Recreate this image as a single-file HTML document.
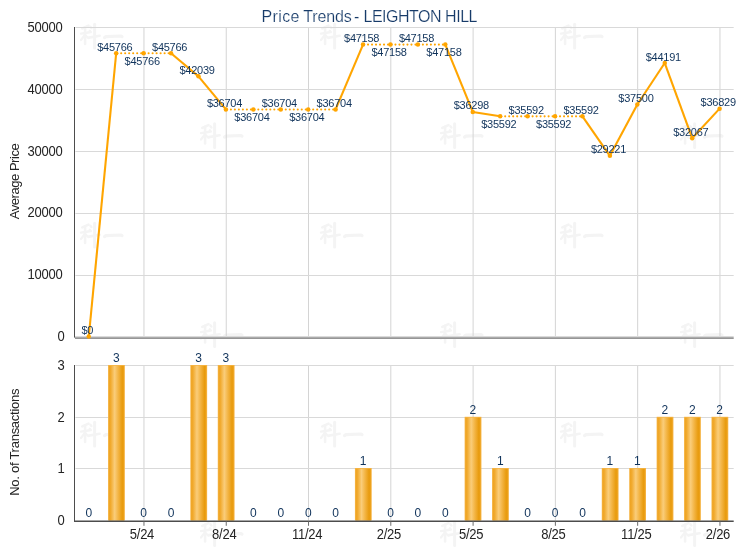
<!DOCTYPE html><html><head><meta charset="utf-8"><style>
html,body{margin:0;padding:0;background:#fff}
svg{display:block;will-change:transform}
text{font-family:"Liberation Sans",sans-serif}
.ax{font-size:13px;fill:#242424;letter-spacing:-0.25px}
.dl{font-size:11px;fill:#10335b;letter-spacing:-0.25px}
.bl{font-size:12px;fill:#10335b}
</style></head><body>
<svg width="740" height="550" viewBox="0 0 740 550">
<defs><linearGradient id="bg" x1="0" y1="0" x2="1" y2="0"><stop offset="0" stop-color="#eea321"/><stop offset="0.12" stop-color="#f1aa2e"/><stop offset="0.38" stop-color="#facd7a"/><stop offset="0.62" stop-color="#f3b443"/><stop offset="0.88" stop-color="#e89b0e"/><stop offset="1" stop-color="#eda21c"/></linearGradient>
<linearGradient id="xg" x1="0" y1="0" x2="0" y2="1"><stop offset="0" stop-color="#cfcfcf"/><stop offset="1" stop-color="#858585"/></linearGradient>
</defs>
<rect width="740" height="550" fill="#fff"/>
<g transform="translate(80,23.0)" fill="none" stroke="#f4f4f4" stroke-linecap="round" stroke-linejoin="round"><path d="M8.5 2.6 L2.3 5.4" stroke-width="2.6"/><path d="M1 10.6 L9.6 9.2" stroke-width="2.4"/><path d="M5.1 4.2 L5.1 21" stroke-width="2.6"/><path d="M4.8 12 L1 17" stroke-width="2.2"/><path d="M5.6 12.6 L8.4 15.2" stroke-width="2.2"/><path d="M10.4 3.8 L11.4 5" stroke-width="2.4"/><path d="M9.8 7.8 L10.8 9" stroke-width="2.4"/><path d="M8.8 14.6 L19.6 12.8" stroke-width="2.6"/><path d="M14.6 1.2 L14.6 25" stroke-width="3"/><path d="M24.5 14.6 L26 13.6 L41 13 L42 13.6" stroke-width="3.2"/></g>
<g transform="translate(320,23.0)" fill="none" stroke="#f4f4f4" stroke-linecap="round" stroke-linejoin="round"><path d="M8.5 2.6 L2.3 5.4" stroke-width="2.6"/><path d="M1 10.6 L9.6 9.2" stroke-width="2.4"/><path d="M5.1 4.2 L5.1 21" stroke-width="2.6"/><path d="M4.8 12 L1 17" stroke-width="2.2"/><path d="M5.6 12.6 L8.4 15.2" stroke-width="2.2"/><path d="M10.4 3.8 L11.4 5" stroke-width="2.4"/><path d="M9.8 7.8 L10.8 9" stroke-width="2.4"/><path d="M8.8 14.6 L19.6 12.8" stroke-width="2.6"/><path d="M14.6 1.2 L14.6 25" stroke-width="3"/><path d="M24.5 14.6 L26 13.6 L41 13 L42 13.6" stroke-width="3.2"/></g>
<g transform="translate(560,23.0)" fill="none" stroke="#f4f4f4" stroke-linecap="round" stroke-linejoin="round"><path d="M8.5 2.6 L2.3 5.4" stroke-width="2.6"/><path d="M1 10.6 L9.6 9.2" stroke-width="2.4"/><path d="M5.1 4.2 L5.1 21" stroke-width="2.6"/><path d="M4.8 12 L1 17" stroke-width="2.2"/><path d="M5.6 12.6 L8.4 15.2" stroke-width="2.2"/><path d="M10.4 3.8 L11.4 5" stroke-width="2.4"/><path d="M9.8 7.8 L10.8 9" stroke-width="2.4"/><path d="M8.8 14.6 L19.6 12.8" stroke-width="2.6"/><path d="M14.6 1.2 L14.6 25" stroke-width="3"/><path d="M24.5 14.6 L26 13.6 L41 13 L42 13.6" stroke-width="3.2"/></g>
<g transform="translate(200,122.5)" fill="none" stroke="#f4f4f4" stroke-linecap="round" stroke-linejoin="round"><path d="M8.5 2.6 L2.3 5.4" stroke-width="2.6"/><path d="M1 10.6 L9.6 9.2" stroke-width="2.4"/><path d="M5.1 4.2 L5.1 21" stroke-width="2.6"/><path d="M4.8 12 L1 17" stroke-width="2.2"/><path d="M5.6 12.6 L8.4 15.2" stroke-width="2.2"/><path d="M10.4 3.8 L11.4 5" stroke-width="2.4"/><path d="M9.8 7.8 L10.8 9" stroke-width="2.4"/><path d="M8.8 14.6 L19.6 12.8" stroke-width="2.6"/><path d="M14.6 1.2 L14.6 25" stroke-width="3"/><path d="M24.5 14.6 L26 13.6 L41 13 L42 13.6" stroke-width="3.2"/></g>
<g transform="translate(440,122.5)" fill="none" stroke="#f4f4f4" stroke-linecap="round" stroke-linejoin="round"><path d="M8.5 2.6 L2.3 5.4" stroke-width="2.6"/><path d="M1 10.6 L9.6 9.2" stroke-width="2.4"/><path d="M5.1 4.2 L5.1 21" stroke-width="2.6"/><path d="M4.8 12 L1 17" stroke-width="2.2"/><path d="M5.6 12.6 L8.4 15.2" stroke-width="2.2"/><path d="M10.4 3.8 L11.4 5" stroke-width="2.4"/><path d="M9.8 7.8 L10.8 9" stroke-width="2.4"/><path d="M8.8 14.6 L19.6 12.8" stroke-width="2.6"/><path d="M14.6 1.2 L14.6 25" stroke-width="3"/><path d="M24.5 14.6 L26 13.6 L41 13 L42 13.6" stroke-width="3.2"/></g>
<g transform="translate(680,122.5)" fill="none" stroke="#f4f4f4" stroke-linecap="round" stroke-linejoin="round"><path d="M8.5 2.6 L2.3 5.4" stroke-width="2.6"/><path d="M1 10.6 L9.6 9.2" stroke-width="2.4"/><path d="M5.1 4.2 L5.1 21" stroke-width="2.6"/><path d="M4.8 12 L1 17" stroke-width="2.2"/><path d="M5.6 12.6 L8.4 15.2" stroke-width="2.2"/><path d="M10.4 3.8 L11.4 5" stroke-width="2.4"/><path d="M9.8 7.8 L10.8 9" stroke-width="2.4"/><path d="M8.8 14.6 L19.6 12.8" stroke-width="2.6"/><path d="M14.6 1.2 L14.6 25" stroke-width="3"/><path d="M24.5 14.6 L26 13.6 L41 13 L42 13.6" stroke-width="3.2"/></g>
<g transform="translate(80,222.0)" fill="none" stroke="#f4f4f4" stroke-linecap="round" stroke-linejoin="round"><path d="M8.5 2.6 L2.3 5.4" stroke-width="2.6"/><path d="M1 10.6 L9.6 9.2" stroke-width="2.4"/><path d="M5.1 4.2 L5.1 21" stroke-width="2.6"/><path d="M4.8 12 L1 17" stroke-width="2.2"/><path d="M5.6 12.6 L8.4 15.2" stroke-width="2.2"/><path d="M10.4 3.8 L11.4 5" stroke-width="2.4"/><path d="M9.8 7.8 L10.8 9" stroke-width="2.4"/><path d="M8.8 14.6 L19.6 12.8" stroke-width="2.6"/><path d="M14.6 1.2 L14.6 25" stroke-width="3"/><path d="M24.5 14.6 L26 13.6 L41 13 L42 13.6" stroke-width="3.2"/></g>
<g transform="translate(320,222.0)" fill="none" stroke="#f4f4f4" stroke-linecap="round" stroke-linejoin="round"><path d="M8.5 2.6 L2.3 5.4" stroke-width="2.6"/><path d="M1 10.6 L9.6 9.2" stroke-width="2.4"/><path d="M5.1 4.2 L5.1 21" stroke-width="2.6"/><path d="M4.8 12 L1 17" stroke-width="2.2"/><path d="M5.6 12.6 L8.4 15.2" stroke-width="2.2"/><path d="M10.4 3.8 L11.4 5" stroke-width="2.4"/><path d="M9.8 7.8 L10.8 9" stroke-width="2.4"/><path d="M8.8 14.6 L19.6 12.8" stroke-width="2.6"/><path d="M14.6 1.2 L14.6 25" stroke-width="3"/><path d="M24.5 14.6 L26 13.6 L41 13 L42 13.6" stroke-width="3.2"/></g>
<g transform="translate(560,222.0)" fill="none" stroke="#f4f4f4" stroke-linecap="round" stroke-linejoin="round"><path d="M8.5 2.6 L2.3 5.4" stroke-width="2.6"/><path d="M1 10.6 L9.6 9.2" stroke-width="2.4"/><path d="M5.1 4.2 L5.1 21" stroke-width="2.6"/><path d="M4.8 12 L1 17" stroke-width="2.2"/><path d="M5.6 12.6 L8.4 15.2" stroke-width="2.2"/><path d="M10.4 3.8 L11.4 5" stroke-width="2.4"/><path d="M9.8 7.8 L10.8 9" stroke-width="2.4"/><path d="M8.8 14.6 L19.6 12.8" stroke-width="2.6"/><path d="M14.6 1.2 L14.6 25" stroke-width="3"/><path d="M24.5 14.6 L26 13.6 L41 13 L42 13.6" stroke-width="3.2"/></g>
<g transform="translate(200,321.5)" fill="none" stroke="#f4f4f4" stroke-linecap="round" stroke-linejoin="round"><path d="M8.5 2.6 L2.3 5.4" stroke-width="2.6"/><path d="M1 10.6 L9.6 9.2" stroke-width="2.4"/><path d="M5.1 4.2 L5.1 21" stroke-width="2.6"/><path d="M4.8 12 L1 17" stroke-width="2.2"/><path d="M5.6 12.6 L8.4 15.2" stroke-width="2.2"/><path d="M10.4 3.8 L11.4 5" stroke-width="2.4"/><path d="M9.8 7.8 L10.8 9" stroke-width="2.4"/><path d="M8.8 14.6 L19.6 12.8" stroke-width="2.6"/><path d="M14.6 1.2 L14.6 25" stroke-width="3"/><path d="M24.5 14.6 L26 13.6 L41 13 L42 13.6" stroke-width="3.2"/></g>
<g transform="translate(440,321.5)" fill="none" stroke="#f4f4f4" stroke-linecap="round" stroke-linejoin="round"><path d="M8.5 2.6 L2.3 5.4" stroke-width="2.6"/><path d="M1 10.6 L9.6 9.2" stroke-width="2.4"/><path d="M5.1 4.2 L5.1 21" stroke-width="2.6"/><path d="M4.8 12 L1 17" stroke-width="2.2"/><path d="M5.6 12.6 L8.4 15.2" stroke-width="2.2"/><path d="M10.4 3.8 L11.4 5" stroke-width="2.4"/><path d="M9.8 7.8 L10.8 9" stroke-width="2.4"/><path d="M8.8 14.6 L19.6 12.8" stroke-width="2.6"/><path d="M14.6 1.2 L14.6 25" stroke-width="3"/><path d="M24.5 14.6 L26 13.6 L41 13 L42 13.6" stroke-width="3.2"/></g>
<g transform="translate(680,321.5)" fill="none" stroke="#f4f4f4" stroke-linecap="round" stroke-linejoin="round"><path d="M8.5 2.6 L2.3 5.4" stroke-width="2.6"/><path d="M1 10.6 L9.6 9.2" stroke-width="2.4"/><path d="M5.1 4.2 L5.1 21" stroke-width="2.6"/><path d="M4.8 12 L1 17" stroke-width="2.2"/><path d="M5.6 12.6 L8.4 15.2" stroke-width="2.2"/><path d="M10.4 3.8 L11.4 5" stroke-width="2.4"/><path d="M9.8 7.8 L10.8 9" stroke-width="2.4"/><path d="M8.8 14.6 L19.6 12.8" stroke-width="2.6"/><path d="M14.6 1.2 L14.6 25" stroke-width="3"/><path d="M24.5 14.6 L26 13.6 L41 13 L42 13.6" stroke-width="3.2"/></g>
<g transform="translate(80,421.0)" fill="none" stroke="#f4f4f4" stroke-linecap="round" stroke-linejoin="round"><path d="M8.5 2.6 L2.3 5.4" stroke-width="2.6"/><path d="M1 10.6 L9.6 9.2" stroke-width="2.4"/><path d="M5.1 4.2 L5.1 21" stroke-width="2.6"/><path d="M4.8 12 L1 17" stroke-width="2.2"/><path d="M5.6 12.6 L8.4 15.2" stroke-width="2.2"/><path d="M10.4 3.8 L11.4 5" stroke-width="2.4"/><path d="M9.8 7.8 L10.8 9" stroke-width="2.4"/><path d="M8.8 14.6 L19.6 12.8" stroke-width="2.6"/><path d="M14.6 1.2 L14.6 25" stroke-width="3"/><path d="M24.5 14.6 L26 13.6 L41 13 L42 13.6" stroke-width="3.2"/></g>
<g transform="translate(320,421.0)" fill="none" stroke="#f4f4f4" stroke-linecap="round" stroke-linejoin="round"><path d="M8.5 2.6 L2.3 5.4" stroke-width="2.6"/><path d="M1 10.6 L9.6 9.2" stroke-width="2.4"/><path d="M5.1 4.2 L5.1 21" stroke-width="2.6"/><path d="M4.8 12 L1 17" stroke-width="2.2"/><path d="M5.6 12.6 L8.4 15.2" stroke-width="2.2"/><path d="M10.4 3.8 L11.4 5" stroke-width="2.4"/><path d="M9.8 7.8 L10.8 9" stroke-width="2.4"/><path d="M8.8 14.6 L19.6 12.8" stroke-width="2.6"/><path d="M14.6 1.2 L14.6 25" stroke-width="3"/><path d="M24.5 14.6 L26 13.6 L41 13 L42 13.6" stroke-width="3.2"/></g>
<g transform="translate(560,421.0)" fill="none" stroke="#f4f4f4" stroke-linecap="round" stroke-linejoin="round"><path d="M8.5 2.6 L2.3 5.4" stroke-width="2.6"/><path d="M1 10.6 L9.6 9.2" stroke-width="2.4"/><path d="M5.1 4.2 L5.1 21" stroke-width="2.6"/><path d="M4.8 12 L1 17" stroke-width="2.2"/><path d="M5.6 12.6 L8.4 15.2" stroke-width="2.2"/><path d="M10.4 3.8 L11.4 5" stroke-width="2.4"/><path d="M9.8 7.8 L10.8 9" stroke-width="2.4"/><path d="M8.8 14.6 L19.6 12.8" stroke-width="2.6"/><path d="M14.6 1.2 L14.6 25" stroke-width="3"/><path d="M24.5 14.6 L26 13.6 L41 13 L42 13.6" stroke-width="3.2"/></g>
<g transform="translate(200,520.5)" fill="none" stroke="#f4f4f4" stroke-linecap="round" stroke-linejoin="round"><path d="M8.5 2.6 L2.3 5.4" stroke-width="2.6"/><path d="M1 10.6 L9.6 9.2" stroke-width="2.4"/><path d="M5.1 4.2 L5.1 21" stroke-width="2.6"/><path d="M4.8 12 L1 17" stroke-width="2.2"/><path d="M5.6 12.6 L8.4 15.2" stroke-width="2.2"/><path d="M10.4 3.8 L11.4 5" stroke-width="2.4"/><path d="M9.8 7.8 L10.8 9" stroke-width="2.4"/><path d="M8.8 14.6 L19.6 12.8" stroke-width="2.6"/><path d="M14.6 1.2 L14.6 25" stroke-width="3"/><path d="M24.5 14.6 L26 13.6 L41 13 L42 13.6" stroke-width="3.2"/></g>
<g transform="translate(440,520.5)" fill="none" stroke="#f4f4f4" stroke-linecap="round" stroke-linejoin="round"><path d="M8.5 2.6 L2.3 5.4" stroke-width="2.6"/><path d="M1 10.6 L9.6 9.2" stroke-width="2.4"/><path d="M5.1 4.2 L5.1 21" stroke-width="2.6"/><path d="M4.8 12 L1 17" stroke-width="2.2"/><path d="M5.6 12.6 L8.4 15.2" stroke-width="2.2"/><path d="M10.4 3.8 L11.4 5" stroke-width="2.4"/><path d="M9.8 7.8 L10.8 9" stroke-width="2.4"/><path d="M8.8 14.6 L19.6 12.8" stroke-width="2.6"/><path d="M14.6 1.2 L14.6 25" stroke-width="3"/><path d="M24.5 14.6 L26 13.6 L41 13 L42 13.6" stroke-width="3.2"/></g>
<g transform="translate(680,520.5)" fill="none" stroke="#f4f4f4" stroke-linecap="round" stroke-linejoin="round"><path d="M8.5 2.6 L2.3 5.4" stroke-width="2.6"/><path d="M1 10.6 L9.6 9.2" stroke-width="2.4"/><path d="M5.1 4.2 L5.1 21" stroke-width="2.6"/><path d="M4.8 12 L1 17" stroke-width="2.2"/><path d="M5.6 12.6 L8.4 15.2" stroke-width="2.2"/><path d="M10.4 3.8 L11.4 5" stroke-width="2.4"/><path d="M9.8 7.8 L10.8 9" stroke-width="2.4"/><path d="M8.8 14.6 L19.6 12.8" stroke-width="2.6"/><path d="M14.6 1.2 L14.6 25" stroke-width="3"/><path d="M24.5 14.6 L26 13.6 L41 13 L42 13.6" stroke-width="3.2"/></g>
<line x1="143.96" y1="27.5" x2="143.96" y2="337.5" stroke="#d4d4d4" stroke-width="1"/>
<line x1="143.96" y1="365.5" x2="143.96" y2="520.5" stroke="#d4d4d4" stroke-width="1"/>
<line x1="226.24" y1="27.5" x2="226.24" y2="337.5" stroke="#d4d4d4" stroke-width="1"/>
<line x1="226.24" y1="365.5" x2="226.24" y2="520.5" stroke="#d4d4d4" stroke-width="1"/>
<line x1="308.53" y1="27.5" x2="308.53" y2="337.5" stroke="#d4d4d4" stroke-width="1"/>
<line x1="308.53" y1="365.5" x2="308.53" y2="520.5" stroke="#d4d4d4" stroke-width="1"/>
<line x1="390.81" y1="27.5" x2="390.81" y2="337.5" stroke="#d4d4d4" stroke-width="1"/>
<line x1="390.81" y1="365.5" x2="390.81" y2="520.5" stroke="#d4d4d4" stroke-width="1"/>
<line x1="473.10" y1="27.5" x2="473.10" y2="337.5" stroke="#d4d4d4" stroke-width="1"/>
<line x1="473.10" y1="365.5" x2="473.10" y2="520.5" stroke="#d4d4d4" stroke-width="1"/>
<line x1="555.39" y1="27.5" x2="555.39" y2="337.5" stroke="#d4d4d4" stroke-width="1"/>
<line x1="555.39" y1="365.5" x2="555.39" y2="520.5" stroke="#d4d4d4" stroke-width="1"/>
<line x1="637.67" y1="27.5" x2="637.67" y2="337.5" stroke="#d4d4d4" stroke-width="1"/>
<line x1="637.67" y1="365.5" x2="637.67" y2="520.5" stroke="#d4d4d4" stroke-width="1"/>
<line x1="719.96" y1="27.5" x2="719.96" y2="337.5" stroke="#d4d4d4" stroke-width="1"/>
<line x1="719.96" y1="365.5" x2="719.96" y2="520.5" stroke="#d4d4d4" stroke-width="1"/>
<line x1="75.43" y1="27.50" x2="733.7" y2="27.50" stroke="#d9d9d9" stroke-width="1"/>
<text class="ax" transform="translate(62.5,31.90) scale(1,1.07)" text-anchor="end">50000</text>
<line x1="75.43" y1="89.50" x2="733.7" y2="89.50" stroke="#d9d9d9" stroke-width="1"/>
<text class="ax" transform="translate(62.5,93.90) scale(1,1.07)" text-anchor="end">40000</text>
<line x1="75.43" y1="151.50" x2="733.7" y2="151.50" stroke="#d9d9d9" stroke-width="1"/>
<text class="ax" transform="translate(62.5,155.90) scale(1,1.07)" text-anchor="end">30000</text>
<line x1="75.43" y1="213.50" x2="733.7" y2="213.50" stroke="#d9d9d9" stroke-width="1"/>
<text class="ax" transform="translate(62.5,216.90) scale(1,1.07)" text-anchor="end">20000</text>
<line x1="75.43" y1="275.50" x2="733.7" y2="275.50" stroke="#d9d9d9" stroke-width="1"/>
<text class="ax" transform="translate(62.5,278.90) scale(1,1.07)" text-anchor="end">10000</text>
<text class="ax" transform="translate(64.4,340.90) scale(1,1.07)" text-anchor="end">0</text>
<line x1="75.43" y1="365.50" x2="733.7" y2="365.50" stroke="#d9d9d9" stroke-width="1"/>
<text class="ax" transform="translate(64.4,369.90) scale(1,1.07)" text-anchor="end">3</text>
<line x1="75.43" y1="417.50" x2="733.7" y2="417.50" stroke="#d9d9d9" stroke-width="1"/>
<text class="ax" transform="translate(64.4,421.90) scale(1,1.07)" text-anchor="end">2</text>
<line x1="75.43" y1="468.50" x2="733.7" y2="468.50" stroke="#d9d9d9" stroke-width="1"/>
<text class="ax" transform="translate(64.4,472.90) scale(1,1.07)" text-anchor="end">1</text>
<text class="ax" transform="translate(64.4,524.90) scale(1,1.07)" text-anchor="end">0</text>
<line x1="74.5" y1="27.0" x2="74.5" y2="337.6" stroke="#4d4d4d" stroke-width="1"/>
<line x1="74.5" y1="365.0" x2="74.5" y2="521.5" stroke="#4d4d4d" stroke-width="1"/>
<rect x="75" y="336" width="658.7" height="1" fill="#dadada"/>
<rect x="75" y="337" width="658.7" height="1" fill="#ababab"/>
<rect x="75" y="338" width="658.7" height="1" fill="#969696"/>
<rect x="108.06" y="365.00" width="16.80" height="155.50" fill="#f6b546"/>
<rect x="108.86" y="365.80" width="15.20" height="154.70" fill="url(#bg)"/>
<rect x="190.34" y="365.00" width="16.80" height="155.50" fill="#f6b546"/>
<rect x="191.14" y="365.80" width="15.20" height="154.70" fill="url(#bg)"/>
<rect x="217.77" y="365.00" width="16.80" height="155.50" fill="#f6b546"/>
<rect x="218.57" y="365.80" width="15.20" height="154.70" fill="url(#bg)"/>
<rect x="354.92" y="468.00" width="16.80" height="52.50" fill="#f6b546"/>
<rect x="355.72" y="468.80" width="15.20" height="51.70" fill="url(#bg)"/>
<rect x="464.63" y="416.80" width="16.80" height="103.70" fill="#f6b546"/>
<rect x="465.43" y="417.60" width="15.20" height="102.90" fill="url(#bg)"/>
<rect x="492.06" y="468.00" width="16.80" height="52.50" fill="#f6b546"/>
<rect x="492.86" y="468.80" width="15.20" height="51.70" fill="url(#bg)"/>
<rect x="601.77" y="468.00" width="16.80" height="52.50" fill="#f6b546"/>
<rect x="602.57" y="468.80" width="15.20" height="51.70" fill="url(#bg)"/>
<rect x="629.20" y="468.00" width="16.80" height="52.50" fill="#f6b546"/>
<rect x="630.00" y="468.80" width="15.20" height="51.70" fill="url(#bg)"/>
<rect x="656.63" y="416.80" width="16.80" height="103.70" fill="#f6b546"/>
<rect x="657.43" y="417.60" width="15.20" height="102.90" fill="url(#bg)"/>
<rect x="684.06" y="416.80" width="16.80" height="103.70" fill="#f6b546"/>
<rect x="684.86" y="417.60" width="15.20" height="102.90" fill="url(#bg)"/>
<rect x="711.49" y="416.80" width="16.80" height="103.70" fill="#f6b546"/>
<rect x="712.29" y="417.60" width="15.20" height="102.90" fill="url(#bg)"/>
<rect x="74" y="520.5" width="659.7" height="1.5" fill="#4d4d4d"/>
<line x1="143.96" y1="521.5" x2="143.96" y2="525.8" stroke="#6e6e6e" stroke-width="1"/>
<text class="ax" transform="translate(141.96,539.0) scale(1,1.07)" text-anchor="middle">5/24</text>
<line x1="226.24" y1="521.5" x2="226.24" y2="525.8" stroke="#6e6e6e" stroke-width="1"/>
<text class="ax" transform="translate(224.24,539.0) scale(1,1.07)" text-anchor="middle">8/24</text>
<line x1="308.53" y1="521.5" x2="308.53" y2="525.8" stroke="#6e6e6e" stroke-width="1"/>
<text class="ax" transform="translate(307.13,539.0) scale(1,1.07)" text-anchor="middle">11/24</text>
<line x1="390.81" y1="521.5" x2="390.81" y2="525.8" stroke="#6e6e6e" stroke-width="1"/>
<text class="ax" transform="translate(388.81,539.0) scale(1,1.07)" text-anchor="middle">2/25</text>
<line x1="473.10" y1="521.5" x2="473.10" y2="525.8" stroke="#6e6e6e" stroke-width="1"/>
<text class="ax" transform="translate(471.10,539.0) scale(1,1.07)" text-anchor="middle">5/25</text>
<line x1="555.39" y1="521.5" x2="555.39" y2="525.8" stroke="#6e6e6e" stroke-width="1"/>
<text class="ax" transform="translate(553.39,539.0) scale(1,1.07)" text-anchor="middle">8/25</text>
<line x1="637.67" y1="521.5" x2="637.67" y2="525.8" stroke="#6e6e6e" stroke-width="1"/>
<text class="ax" transform="translate(636.27,539.0) scale(1,1.07)" text-anchor="middle">11/25</text>
<line x1="719.96" y1="521.5" x2="719.96" y2="525.8" stroke="#6e6e6e" stroke-width="1"/>
<text class="ax" transform="translate(717.96,539.0) scale(1,1.07)" text-anchor="middle">2/26</text>
<line x1="88.75" y1="337.00" x2="116.18" y2="53.25" stroke="#ffa500" stroke-width="2.1"/>
<line x1="116.18" y1="53.25" x2="143.61" y2="53.25" stroke="#ffa500" stroke-dasharray="0.01 3.99" stroke-dashoffset="-1" stroke-linecap="round" stroke-width="2.1"/>
<line x1="143.61" y1="53.25" x2="171.04" y2="53.25" stroke="#ffa500" stroke-dasharray="0.01 3.99" stroke-dashoffset="-1" stroke-linecap="round" stroke-width="2.1"/>
<line x1="171.04" y1="53.25" x2="198.46" y2="76.36" stroke="#ffa500" stroke-width="2.1"/>
<line x1="198.46" y1="76.36" x2="225.89" y2="109.44" stroke="#ffa500" stroke-width="2.1"/>
<line x1="225.89" y1="109.44" x2="253.32" y2="109.44" stroke="#ffa500" stroke-dasharray="0.01 3.99" stroke-dashoffset="-1" stroke-linecap="round" stroke-width="2.1"/>
<line x1="253.32" y1="109.44" x2="280.75" y2="109.44" stroke="#ffa500" stroke-dasharray="0.01 3.99" stroke-dashoffset="-1" stroke-linecap="round" stroke-width="2.1"/>
<line x1="280.75" y1="109.44" x2="308.18" y2="109.44" stroke="#ffa500" stroke-dasharray="0.01 3.99" stroke-dashoffset="-1" stroke-linecap="round" stroke-width="2.1"/>
<line x1="308.18" y1="109.44" x2="335.61" y2="109.44" stroke="#ffa500" stroke-dasharray="0.01 3.99" stroke-dashoffset="-1" stroke-linecap="round" stroke-width="2.1"/>
<line x1="335.61" y1="109.44" x2="363.04" y2="44.62" stroke="#ffa500" stroke-width="2.1"/>
<line x1="363.04" y1="44.62" x2="390.46" y2="44.62" stroke="#ffa500" stroke-dasharray="0.01 3.99" stroke-dashoffset="-1" stroke-linecap="round" stroke-width="2.1"/>
<line x1="390.46" y1="44.62" x2="417.89" y2="44.62" stroke="#ffa500" stroke-dasharray="0.01 3.99" stroke-dashoffset="-1" stroke-linecap="round" stroke-width="2.1"/>
<line x1="417.89" y1="44.62" x2="445.32" y2="44.62" stroke="#ffa500" stroke-dasharray="0.01 3.99" stroke-dashoffset="-1" stroke-linecap="round" stroke-width="2.1"/>
<line x1="445.32" y1="44.62" x2="472.75" y2="111.95" stroke="#ffa500" stroke-width="2.1"/>
<line x1="472.75" y1="111.95" x2="500.18" y2="116.33" stroke="#ffa500" stroke-width="2.1"/>
<line x1="500.18" y1="116.33" x2="527.61" y2="116.33" stroke="#ffa500" stroke-dasharray="0.01 3.99" stroke-dashoffset="-1" stroke-linecap="round" stroke-width="2.1"/>
<line x1="527.61" y1="116.33" x2="555.04" y2="116.33" stroke="#ffa500" stroke-dasharray="0.01 3.99" stroke-dashoffset="-1" stroke-linecap="round" stroke-width="2.1"/>
<line x1="555.04" y1="116.33" x2="582.46" y2="116.33" stroke="#ffa500" stroke-dasharray="0.01 3.99" stroke-dashoffset="-1" stroke-linecap="round" stroke-width="2.1"/>
<line x1="582.46" y1="116.33" x2="609.89" y2="155.83" stroke="#ffa500" stroke-width="2.1"/>
<line x1="609.89" y1="155.83" x2="637.32" y2="104.50" stroke="#ffa500" stroke-width="2.1"/>
<line x1="637.32" y1="104.50" x2="664.75" y2="63.02" stroke="#ffa500" stroke-width="2.1"/>
<line x1="664.75" y1="63.02" x2="692.18" y2="138.18" stroke="#ffa500" stroke-width="2.1"/>
<line x1="692.18" y1="138.18" x2="719.61" y2="108.66" stroke="#ffa500" stroke-width="2.1"/>
<circle cx="88.75" cy="336.50" r="2.25" fill="#ffa500"/>
<circle cx="116.18" cy="53.25" r="2.25" fill="#ffa500"/>
<circle cx="143.61" cy="53.25" r="2.25" fill="#ffa500"/>
<circle cx="171.04" cy="53.25" r="2.25" fill="#ffa500"/>
<circle cx="198.46" cy="76.36" r="2.25" fill="#ffa500"/>
<circle cx="225.89" cy="109.44" r="2.25" fill="#ffa500"/>
<circle cx="253.32" cy="109.44" r="2.25" fill="#ffa500"/>
<circle cx="280.75" cy="109.44" r="2.25" fill="#ffa500"/>
<circle cx="308.18" cy="109.44" r="2.25" fill="#ffa500"/>
<circle cx="335.61" cy="109.44" r="2.25" fill="#ffa500"/>
<circle cx="363.04" cy="44.62" r="2.25" fill="#ffa500"/>
<circle cx="390.46" cy="44.62" r="2.25" fill="#ffa500"/>
<circle cx="417.89" cy="44.62" r="2.25" fill="#ffa500"/>
<circle cx="445.32" cy="44.62" r="2.25" fill="#ffa500"/>
<circle cx="472.75" cy="111.95" r="2.25" fill="#ffa500"/>
<circle cx="500.18" cy="116.33" r="2.25" fill="#ffa500"/>
<circle cx="527.61" cy="116.33" r="2.25" fill="#ffa500"/>
<circle cx="555.04" cy="116.33" r="2.25" fill="#ffa500"/>
<circle cx="582.46" cy="116.33" r="2.25" fill="#ffa500"/>
<circle cx="609.89" cy="155.83" r="2.25" fill="#ffa500"/>
<circle cx="637.32" cy="104.50" r="2.25" fill="#ffa500"/>
<circle cx="664.75" cy="63.02" r="2.25" fill="#ffa500"/>
<circle cx="692.18" cy="138.18" r="2.25" fill="#ffa500"/>
<circle cx="719.61" cy="108.66" r="2.25" fill="#ffa500"/>
<text class="dl" x="87.35" y="334.00" text-anchor="middle">$0</text>
<text class="dl" x="114.78" y="50.75" text-anchor="middle">$45766</text>
<text class="dl" x="142.21" y="64.75" text-anchor="middle">$45766</text>
<text class="dl" x="169.64" y="50.75" text-anchor="middle">$45766</text>
<text class="dl" x="197.06" y="73.86" text-anchor="middle">$42039</text>
<text class="dl" x="224.49" y="106.94" text-anchor="middle">$36704</text>
<text class="dl" x="251.92" y="120.94" text-anchor="middle">$36704</text>
<text class="dl" x="279.35" y="106.94" text-anchor="middle">$36704</text>
<text class="dl" x="306.78" y="120.94" text-anchor="middle">$36704</text>
<text class="dl" x="334.21" y="106.94" text-anchor="middle">$36704</text>
<text class="dl" x="361.64" y="42.12" text-anchor="middle">$47158</text>
<text class="dl" x="389.06" y="56.12" text-anchor="middle">$47158</text>
<text class="dl" x="416.49" y="42.12" text-anchor="middle">$47158</text>
<text class="dl" x="443.92" y="56.12" text-anchor="middle">$47158</text>
<text class="dl" x="471.35" y="109.45" text-anchor="middle">$36298</text>
<text class="dl" x="498.78" y="127.83" text-anchor="middle">$35592</text>
<text class="dl" x="526.21" y="113.83" text-anchor="middle">$35592</text>
<text class="dl" x="553.64" y="127.83" text-anchor="middle">$35592</text>
<text class="dl" x="581.06" y="113.83" text-anchor="middle">$35592</text>
<text class="dl" x="608.49" y="153.33" text-anchor="middle">$29221</text>
<text class="dl" x="635.92" y="102.00" text-anchor="middle">$37500</text>
<text class="dl" x="663.35" y="60.52" text-anchor="middle">$44191</text>
<text class="dl" x="690.78" y="135.68" text-anchor="middle">$32067</text>
<text class="dl" x="718.21" y="106.16" text-anchor="middle">$36829</text>
<text class="bl" x="88.80" y="517.20" text-anchor="middle">0</text>
<text class="bl" x="116.23" y="362.20" text-anchor="middle">3</text>
<text class="bl" x="143.66" y="517.20" text-anchor="middle">0</text>
<text class="bl" x="171.09" y="517.20" text-anchor="middle">0</text>
<text class="bl" x="198.51" y="362.20" text-anchor="middle">3</text>
<text class="bl" x="225.94" y="362.20" text-anchor="middle">3</text>
<text class="bl" x="253.37" y="517.20" text-anchor="middle">0</text>
<text class="bl" x="280.80" y="517.20" text-anchor="middle">0</text>
<text class="bl" x="308.23" y="517.20" text-anchor="middle">0</text>
<text class="bl" x="335.66" y="517.20" text-anchor="middle">0</text>
<text class="bl" x="363.09" y="465.20" text-anchor="middle">1</text>
<text class="bl" x="390.51" y="517.20" text-anchor="middle">0</text>
<text class="bl" x="417.94" y="517.20" text-anchor="middle">0</text>
<text class="bl" x="445.37" y="517.20" text-anchor="middle">0</text>
<text class="bl" x="472.80" y="414.20" text-anchor="middle">2</text>
<text class="bl" x="500.23" y="465.20" text-anchor="middle">1</text>
<text class="bl" x="527.66" y="517.20" text-anchor="middle">0</text>
<text class="bl" x="555.09" y="517.20" text-anchor="middle">0</text>
<text class="bl" x="582.51" y="517.20" text-anchor="middle">0</text>
<text class="bl" x="609.94" y="465.20" text-anchor="middle">1</text>
<text class="bl" x="637.37" y="465.20" text-anchor="middle">1</text>
<text class="bl" x="664.80" y="414.20" text-anchor="middle">2</text>
<text class="bl" x="692.23" y="414.20" text-anchor="middle">2</text>
<text class="bl" x="719.66" y="414.20" text-anchor="middle">2</text>
<text x="261.6" y="22" style="font-size:16px;fill:#173b69;stroke:#fff;stroke-width:0.2px;white-space:pre"><tspan style="letter-spacing:0.35px">Price</tspan><tspan dx="-0.5" style="letter-spacing:-0.15px"> Trends</tspan><tspan dx="-1.9" style="letter-spacing:-0.15px"> - </tspan><tspan style="letter-spacing:-0.48px">LEIGHTON HILL</tspan></text>
<text transform="translate(19.1,181.5) rotate(-90) scale(1,1.05)" text-anchor="middle" class="ax" style="letter-spacing:-0.45px">Average Price</text>
<text transform="translate(19.1,442.3) rotate(-90) scale(1,1.05)" text-anchor="middle" class="ax">No. of Transactions</text>
</svg></body></html>
